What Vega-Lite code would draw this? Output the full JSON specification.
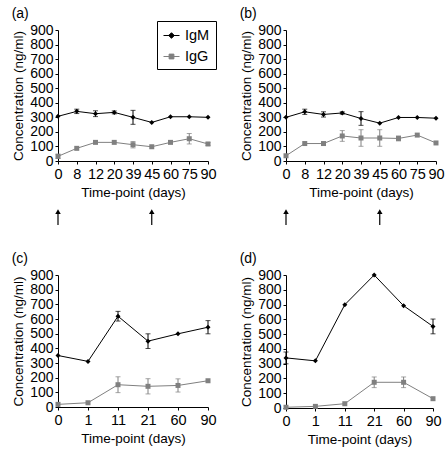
{
  "$schema": "https://vega.github.io/schema/vega-lite/v6.json",
  "padding": {"left": 11, "top": 7, "right": 5, "bottom": 5},
  "background": "white",
  "datasets": {
    "a": [
      {"day": 0, "ab": "IgM", "v": 307, "lo": null, "hi": null},
      {"day": 8, "ab": "IgM", "v": 341, "lo": 326, "hi": 356},
      {"day": 12, "ab": "IgM", "v": 325, "lo": 305, "hi": 345},
      {"day": 20, "ab": "IgM", "v": 334, "lo": 324, "hi": 344},
      {"day": 39, "ab": "IgM", "v": 300, "lo": 252, "hi": 348},
      {"day": 45, "ab": "IgM", "v": 265, "lo": null, "hi": null},
      {"day": 60, "ab": "IgM", "v": 304, "lo": null, "hi": null},
      {"day": 75, "ab": "IgM", "v": 304, "lo": null, "hi": null},
      {"day": 90, "ab": "IgM", "v": 300, "lo": null, "hi": null},
      {"day": 0, "ab": "IgG", "v": 32, "lo": 17, "hi": 47},
      {"day": 8, "ab": "IgG", "v": 87, "lo": null, "hi": null},
      {"day": 12, "ab": "IgG", "v": 128, "lo": null, "hi": null},
      {"day": 20, "ab": "IgG", "v": 128, "lo": null, "hi": null},
      {"day": 39, "ab": "IgG", "v": 112, "lo": 90, "hi": 134},
      {"day": 45, "ab": "IgG", "v": 98, "lo": null, "hi": null},
      {"day": 60, "ab": "IgG", "v": 128, "lo": null, "hi": null},
      {"day": 75, "ab": "IgG", "v": 153, "lo": 117, "hi": 189},
      {"day": 90, "ab": "IgG", "v": 117, "lo": 107, "hi": 127}
    ],
    "b": [
      {"day": 0, "ab": "IgM", "v": 300, "lo": null, "hi": null},
      {"day": 8, "ab": "IgM", "v": 338, "lo": 320, "hi": 356},
      {"day": 12, "ab": "IgM", "v": 320, "lo": 302, "hi": 338},
      {"day": 20, "ab": "IgM", "v": 330, "lo": 322, "hi": 338},
      {"day": 39, "ab": "IgM", "v": 292, "lo": 245, "hi": 339},
      {"day": 45, "ab": "IgM", "v": 260, "lo": null, "hi": null},
      {"day": 60, "ab": "IgM", "v": 299, "lo": null, "hi": null},
      {"day": 75, "ab": "IgM", "v": 299, "lo": null, "hi": null},
      {"day": 90, "ab": "IgM", "v": 294, "lo": null, "hi": null},
      {"day": 0, "ab": "IgG", "v": 36, "lo": null, "hi": null},
      {"day": 8, "ab": "IgG", "v": 120, "lo": null, "hi": null},
      {"day": 12, "ab": "IgG", "v": 120, "lo": null, "hi": null},
      {"day": 20, "ab": "IgG", "v": 172, "lo": 135, "hi": 209},
      {"day": 39, "ab": "IgG", "v": 158, "lo": 101, "hi": 215},
      {"day": 45, "ab": "IgG", "v": 158, "lo": 101, "hi": 215},
      {"day": 60, "ab": "IgG", "v": 155, "lo": 138, "hi": 172},
      {"day": 75, "ab": "IgG", "v": 178, "lo": null, "hi": null},
      {"day": 90, "ab": "IgG", "v": 124, "lo": null, "hi": null}
    ],
    "c": [
      {"day": 0, "ab": "IgM", "v": 351, "lo": null, "hi": null},
      {"day": 1, "ab": "IgM", "v": 311, "lo": null, "hi": null},
      {"day": 11, "ab": "IgM", "v": 619, "lo": 586, "hi": 652},
      {"day": 21, "ab": "IgM", "v": 449, "lo": 399, "hi": 499},
      {"day": 60, "ab": "IgM", "v": 499, "lo": null, "hi": null},
      {"day": 90, "ab": "IgM", "v": 544, "lo": 499, "hi": 589},
      {"day": 0, "ab": "IgG", "v": 18, "lo": null, "hi": null},
      {"day": 1, "ab": "IgG", "v": 29, "lo": null, "hi": null},
      {"day": 11, "ab": "IgG", "v": 152, "lo": 98, "hi": 206},
      {"day": 21, "ab": "IgG", "v": 141, "lo": 89, "hi": 193},
      {"day": 60, "ab": "IgG", "v": 147, "lo": 102, "hi": 192},
      {"day": 90, "ab": "IgG", "v": 179, "lo": null, "hi": null}
    ],
    "d": [
      {"day": 0, "ab": "IgM", "v": 339, "lo": 299, "hi": 379},
      {"day": 1, "ab": "IgM", "v": 319, "lo": null, "hi": null},
      {"day": 11, "ab": "IgM", "v": 699, "lo": null, "hi": null},
      {"day": 21, "ab": "IgM", "v": 900, "lo": null, "hi": null},
      {"day": 60, "ab": "IgM", "v": 692, "lo": null, "hi": null},
      {"day": 90, "ab": "IgM", "v": 552, "lo": 502, "hi": 602},
      {"day": 0, "ab": "IgG", "v": 5, "lo": null, "hi": null},
      {"day": 1, "ab": "IgG", "v": 11, "lo": null, "hi": null},
      {"day": 11, "ab": "IgG", "v": 29, "lo": null, "hi": null},
      {"day": 21, "ab": "IgG", "v": 174, "lo": 138, "hi": 210},
      {"day": 60, "ab": "IgG", "v": 174, "lo": 138, "hi": 210},
      {"day": 90, "ab": "IgG", "v": 63, "lo": null, "hi": null}
    ],
    "arrows": [{"day": 0}, {"day": 45}]
  },
  "columns": 2,
  "align": {"row": "each", "column": "all"},
  "spacing": {"row": 26, "column": 22},
  "concat": [
    {
      "title": "(a)",
      "width": 150, "height": 131,
      "data": {"name": "a"},
      "layer": [
        {
          "transform": [{"filter": "isValid(datum.lo)"}],
          "mark": {"type": "errorbar", "ticks": {"size": 5}, "thickness": 1},
          "encoding": {
            "x": {"field": "day", "type": "ordinal", "title": "Time-point (days)", "scale": {"type": "point", "padding": 0}, "axis": {"titleFontWeight": 400, "labelAngle": 0}},
            "y": {"field": "lo", "type": "quantitative", "title": "Concentration (ng/ml)", "scale": {"domain": [0, 900], "nice": false}, "axis": {"values": [0, 100, 200, 300, 400, 500, 600, 700, 800, 900], "titleFontWeight": 400}},
            "y2": {"field": "hi"},
            "color": {"field": "ab", "type": "nominal", "scale": {"domain": ["IgM", "IgG"], "range": ["#000000", "#808080"]},
              "legend": {"orient": "none", "legendX": 99, "legendY": -9, "title": null, "strokeColor": "black", "padding": 6, "rowPadding": 6, "labelFontSize": 14.5, "symbolSize": 256, "symbolStrokeWidth": 1, "labelOffset": 5,
                "encode": {"symbols": {"update": {
                  "shape": {"signal": "datum.value === 'IgM' ? 'M-1,0L1,0M0,-0.35L0.35,0L0,0.35L-0.35,0Z' : 'M-1,0L1,0M-0.3,-0.3L0.3,-0.3L0.3,0.3L-0.3,0.3Z'"},
                  "fill": {"signal": "datum.value === 'IgM' ? '#000000' : '#808080'"},
                  "stroke": {"signal": "datum.value === 'IgM' ? '#000000' : '#808080'"},
                  "opacity": {"value": 1}, "fillOpacity": {"value": 1}, "strokeOpacity": {"value": 1}}}}}}
          }
        },
        {
          "mark": {"type": "line", "strokeWidth": 1},
          "encoding": {
            "x": {"field": "day", "type": "ordinal", "title": "Time-point (days)"},
            "y": {"field": "v", "type": "quantitative", "title": "Concentration (ng/ml)", "axis": {"values": [0, 100, 200, 300, 400, 500, 600, 700, 800, 900], "titleFontWeight": 400}},
            "color": {"field": "ab", "type": "nominal"}
          }
        },
        {
          "transform": [{"filter": "datum.ab === 'IgM'"}],
          "mark": {"type": "point", "filled": true, "size": 25, "opacity": 1, "shape": "diamond"},
          "encoding": {
            "x": {"field": "day", "type": "ordinal", "title": "Time-point (days)"},
            "y": {"field": "v", "type": "quantitative", "title": "Concentration (ng/ml)", "axis": {"values": [0, 100, 200, 300, 400, 500, 600, 700, 800, 900], "titleFontWeight": 400}},
            "color": {"field": "ab", "type": "nominal"}
          }
        },
        {
          "transform": [{"filter": "datum.ab === 'IgG'"}],
          "mark": {"type": "point", "filled": true, "size": 25, "opacity": 1, "shape": "square"},
          "encoding": {
            "x": {"field": "day", "type": "ordinal", "title": "Time-point (days)"},
            "y": {"field": "v", "type": "quantitative", "title": "Concentration (ng/ml)", "axis": {"values": [0, 100, 200, 300, 400, 500, 600, 700, 800, 900], "titleFontWeight": 400}},
            "color": {"field": "ab", "type": "nominal"}
          }
        },
        {
          "data": {"name": "arrows"},
          "mark": {"type": "rule", "strokeWidth": 1.2, "color": "black"},
          "encoding": {
            "x": {"field": "day", "type": "ordinal", "title": "Time-point (days)"},
            "y": {"datum": -440, "type": "quantitative", "title": "Concentration (ng/ml)", "axis": {"values": [0, 100, 200, 300, 400, 500, 600, 700, 800, 900], "titleFontWeight": 400}},
            "y2": {"datum": -352}
          }
        },
        {
          "data": {"name": "arrows"},
          "mark": {"type": "point", "shape": "triangle-up", "filled": true, "size": 30, "color": "black", "opacity": 1},
          "encoding": {
            "x": {"field": "day", "type": "ordinal", "title": "Time-point (days)"},
            "y": {"datum": -348, "type": "quantitative", "title": "Concentration (ng/ml)", "axis": {"values": [0, 100, 200, 300, 400, 500, 600, 700, 800, 900], "titleFontWeight": 400}}
          }
        }
      ]
    },
    {
      "title": "(b)",
      "width": 150, "height": 131,
      "data": {"name": "b"},
      "layer": [
        {
          "transform": [{"filter": "isValid(datum.lo)"}],
          "mark": {"type": "errorbar", "ticks": {"size": 5}, "thickness": 1},
          "encoding": {
            "x": {"field": "day", "type": "ordinal", "title": "Time-point (days)", "scale": {"type": "point", "padding": 0}, "axis": {"titleFontWeight": 400, "labelAngle": 0}},
            "y": {"field": "lo", "type": "quantitative", "title": "Concentration (ng/ml)", "scale": {"domain": [0, 900], "nice": false}, "axis": {"values": [0, 100, 200, 300, 400, 500, 600, 700, 800, 900], "titleFontWeight": 400}},
            "y2": {"field": "hi"},
            "color": {"field": "ab", "type": "nominal", "scale": {"domain": ["IgM", "IgG"], "range": ["#000000", "#808080"]}, "legend": null}
          }
        },
        {
          "mark": {"type": "line", "strokeWidth": 1},
          "encoding": {
            "x": {"field": "day", "type": "ordinal", "title": "Time-point (days)"},
            "y": {"field": "v", "type": "quantitative", "title": "Concentration (ng/ml)", "axis": {"values": [0, 100, 200, 300, 400, 500, 600, 700, 800, 900], "titleFontWeight": 400}},
            "color": {"field": "ab", "type": "nominal", "legend": null}
          }
        },
        {
          "transform": [{"filter": "datum.ab === 'IgM'"}],
          "mark": {"type": "point", "filled": true, "size": 25, "opacity": 1, "shape": "diamond"},
          "encoding": {
            "x": {"field": "day", "type": "ordinal", "title": "Time-point (days)"},
            "y": {"field": "v", "type": "quantitative", "title": "Concentration (ng/ml)", "axis": {"values": [0, 100, 200, 300, 400, 500, 600, 700, 800, 900], "titleFontWeight": 400}},
            "color": {"field": "ab", "type": "nominal", "legend": null}
          }
        },
        {
          "transform": [{"filter": "datum.ab === 'IgG'"}],
          "mark": {"type": "point", "filled": true, "size": 25, "opacity": 1, "shape": "square"},
          "encoding": {
            "x": {"field": "day", "type": "ordinal", "title": "Time-point (days)"},
            "y": {"field": "v", "type": "quantitative", "title": "Concentration (ng/ml)", "axis": {"values": [0, 100, 200, 300, 400, 500, 600, 700, 800, 900], "titleFontWeight": 400}},
            "color": {"field": "ab", "type": "nominal", "legend": null}
          }
        },
        {
          "data": {"name": "arrows"},
          "mark": {"type": "rule", "strokeWidth": 1.2, "color": "black"},
          "encoding": {
            "x": {"field": "day", "type": "ordinal", "title": "Time-point (days)"},
            "y": {"datum": -440, "type": "quantitative", "title": "Concentration (ng/ml)", "axis": {"values": [0, 100, 200, 300, 400, 500, 600, 700, 800, 900], "titleFontWeight": 400}},
            "y2": {"datum": -352}
          }
        },
        {
          "data": {"name": "arrows"},
          "mark": {"type": "point", "shape": "triangle-up", "filled": true, "size": 30, "color": "black", "opacity": 1},
          "encoding": {
            "x": {"field": "day", "type": "ordinal", "title": "Time-point (days)"},
            "y": {"datum": -348, "type": "quantitative", "title": "Concentration (ng/ml)", "axis": {"values": [0, 100, 200, 300, 400, 500, 600, 700, 800, 900], "titleFontWeight": 400}}
          }
        }
      ]
    },
    {
      "title": "(c)",
      "width": 150, "height": 132,
      "data": {"name": "c"},
      "layer": [
        {
          "transform": [{"filter": "isValid(datum.lo)"}],
          "mark": {"type": "errorbar", "ticks": {"size": 5}, "thickness": 1},
          "encoding": {
            "x": {"field": "day", "type": "ordinal", "title": "Time-point (days)", "scale": {"type": "point", "padding": 0}, "axis": {"titleFontWeight": 400, "labelAngle": 0}},
            "y": {"field": "lo", "type": "quantitative", "title": "Concentration (ng/ml)", "scale": {"domain": [0, 900], "nice": false}, "axis": {"values": [0, 100, 200, 300, 400, 500, 600, 700, 800, 900], "titleFontWeight": 400}},
            "y2": {"field": "hi"},
            "color": {"field": "ab", "type": "nominal", "scale": {"domain": ["IgM", "IgG"], "range": ["#000000", "#808080"]}, "legend": null}
          }
        },
        {
          "mark": {"type": "line", "strokeWidth": 1},
          "encoding": {
            "x": {"field": "day", "type": "ordinal", "title": "Time-point (days)"},
            "y": {"field": "v", "type": "quantitative", "title": "Concentration (ng/ml)", "axis": {"values": [0, 100, 200, 300, 400, 500, 600, 700, 800, 900], "titleFontWeight": 400}},
            "color": {"field": "ab", "type": "nominal", "legend": null}
          }
        },
        {
          "transform": [{"filter": "datum.ab === 'IgM'"}],
          "mark": {"type": "point", "filled": true, "size": 25, "opacity": 1, "shape": "diamond"},
          "encoding": {
            "x": {"field": "day", "type": "ordinal", "title": "Time-point (days)"},
            "y": {"field": "v", "type": "quantitative", "title": "Concentration (ng/ml)", "axis": {"values": [0, 100, 200, 300, 400, 500, 600, 700, 800, 900], "titleFontWeight": 400}},
            "color": {"field": "ab", "type": "nominal", "legend": null}
          }
        },
        {
          "transform": [{"filter": "datum.ab === 'IgG'"}],
          "mark": {"type": "point", "filled": true, "size": 25, "opacity": 1, "shape": "square"},
          "encoding": {
            "x": {"field": "day", "type": "ordinal", "title": "Time-point (days)"},
            "y": {"field": "v", "type": "quantitative", "title": "Concentration (ng/ml)", "axis": {"values": [0, 100, 200, 300, 400, 500, 600, 700, 800, 900], "titleFontWeight": 400}},
            "color": {"field": "ab", "type": "nominal", "legend": null}
          }
        }
      ]
    },
    {
      "title": "(d)",
      "width": 147, "height": 133,
      "data": {"name": "d"},
      "layer": [
        {
          "transform": [{"filter": "isValid(datum.lo)"}],
          "mark": {"type": "errorbar", "ticks": {"size": 5}, "thickness": 1},
          "encoding": {
            "x": {"field": "day", "type": "ordinal", "title": "Time-point (days)", "scale": {"type": "point", "padding": 0}, "axis": {"titleFontWeight": 400, "labelAngle": 0}},
            "y": {"field": "lo", "type": "quantitative", "title": "Concentration (ng/ml)", "scale": {"domain": [0, 900], "nice": false}, "axis": {"values": [0, 100, 200, 300, 400, 500, 600, 700, 800, 900], "titleFontWeight": 400}},
            "y2": {"field": "hi"},
            "color": {"field": "ab", "type": "nominal", "scale": {"domain": ["IgM", "IgG"], "range": ["#000000", "#808080"]}, "legend": null}
          }
        },
        {
          "mark": {"type": "line", "strokeWidth": 1},
          "encoding": {
            "x": {"field": "day", "type": "ordinal", "title": "Time-point (days)"},
            "y": {"field": "v", "type": "quantitative", "title": "Concentration (ng/ml)", "axis": {"values": [0, 100, 200, 300, 400, 500, 600, 700, 800, 900], "titleFontWeight": 400}},
            "color": {"field": "ab", "type": "nominal", "legend": null}
          }
        },
        {
          "transform": [{"filter": "datum.ab === 'IgM'"}],
          "mark": {"type": "point", "filled": true, "size": 25, "opacity": 1, "shape": "diamond"},
          "encoding": {
            "x": {"field": "day", "type": "ordinal", "title": "Time-point (days)"},
            "y": {"field": "v", "type": "quantitative", "title": "Concentration (ng/ml)", "axis": {"values": [0, 100, 200, 300, 400, 500, 600, 700, 800, 900], "titleFontWeight": 400}},
            "color": {"field": "ab", "type": "nominal", "legend": null}
          }
        },
        {
          "transform": [{"filter": "datum.ab === 'IgG'"}],
          "mark": {"type": "point", "filled": true, "size": 25, "opacity": 1, "shape": "square"},
          "encoding": {
            "x": {"field": "day", "type": "ordinal", "title": "Time-point (days)"},
            "y": {"field": "v", "type": "quantitative", "title": "Concentration (ng/ml)", "axis": {"values": [0, 100, 200, 300, 400, 500, 600, 700, 800, 900], "titleFontWeight": 400}},
            "color": {"field": "ab", "type": "nominal", "legend": null}
          }
        }
      ]
    }
  ],
  "config": {
    "font": "Liberation Sans",
    "view": {"stroke": null},
    "style": {"guide-title": {"fontWeight": 400}},
    "axis": {"grid": false, "domainColor": "black", "tickColor": "black", "labelColor": "black", "titleColor": "black", "labelFontSize": 14, "titleFontSize": 13.5, "titleFontWeight": 400, "tickSize": 3, "labelOverlap": false, "domainWidth": 1, "tickWidth": 1},
    "axisX": {"labelAngle": 0, "labelPadding": 3, "titlePadding": 5, "titleFontWeight": 400, "labelFontSize": 14.5},
    "axisY": {"labelPadding": 2, "titlePadding": 4, "titleFontWeight": 400},
    "title": {"fontSize": 14, "fontWeight": 400, "anchor": "start", "frame": "bounds", "offset": 2, "color": "black"},
    "legend": {"labelColor": "black"}
  }
}
